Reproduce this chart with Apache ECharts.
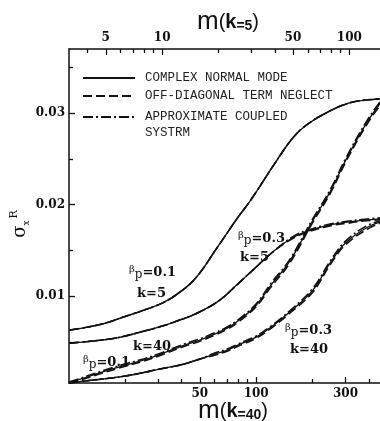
<!DOCTYPE html>
<html><head><meta charset="utf-8">
<script src="https://cdn.jsdelivr.net/npm/echarts@6/dist/echarts.min.js"></script>
<style>html,body{margin:0;padding:0;background:#fff}#c{width:380px;height:421px}</style>
</head><body><div id="c"></div>
<script>
// m along the k=5 scale (top axis)
const mK5 = [3.2, 4, 5, 6, 8, 10, 12, 15, 20, 25, 30, 40, 50, 60, 80, 100, 120, 160];
// m along the k=40 scale (bottom axis)
const mK40 = [10, 12, 15, 20, 25, 30, 40, 50, 60, 70, 80, 100, 120, 150, 200, 250, 300, 400, 500];

// beta_p = 0.1, k = 5 : the three methods coincide
const b01k5 = [0.00628, 0.00661, 0.00705, 0.0076, 0.00847, 0.00923, 0.0102, 0.0119, 0.0155, 0.0184, 0.0206, 0.0245, 0.0273, 0.0288, 0.0303, 0.0311, 0.0314, 0.0316];

// beta_p = 0.3, k = 5
const b03k5Normal = [0.00486, 0.00503, 0.00525, 0.00552, 0.00617, 0.00672, 0.00727, 0.00803, 0.00945, 0.0112, 0.0127, 0.0150, 0.0164, 0.0171, 0.0178, 0.0181, 0.0183, 0.0185];
const b03k5OffDiag = [0.00486, 0.00503, 0.00525, 0.00552, 0.00617, 0.00672, 0.00727, 0.00803, 0.00945, 0.0112, 0.0127, 0.0150, 0.0163, 0.0170, 0.0177, 0.0180, 0.0182, 0.0184];
const b03k5Approx = [0.00486, 0.00503, 0.00525, 0.00552, 0.00617, 0.00672, 0.00727, 0.00803, 0.00945, 0.0112, 0.0127, 0.0150, 0.0165, 0.0172, 0.0179, 0.0182, 0.0184, 0.0186];

// beta_p = 0.1, k = 40
const b01k40Normal = [0.0006, 0.00104, 0.00169, 0.00246, 0.0030, 0.00355, 0.00454, 0.0052, 0.00585, 0.0065, 0.00727, 0.0090, 0.0112, 0.0137, 0.0182, 0.0215, 0.0248, 0.0293, 0.0320];
const b01k40OffDiag = [0.0006, 0.00094, 0.00157, 0.00233, 0.00288, 0.00342, 0.00441, 0.00507, 0.00572, 0.00637, 0.00713, 0.00885, 0.0110, 0.0135, 0.0180, 0.0213, 0.0246, 0.0291, 0.0318];
const b01k40Approx = [0.0006, 0.00114, 0.00181, 0.00259, 0.00313, 0.00368, 0.00467, 0.00533, 0.00598, 0.00663, 0.00741, 0.00915, 0.0114, 0.0139, 0.0184, 0.0217, 0.0250, 0.0295, 0.0322];

// beta_p = 0.3, k = 40
const b03k40Normal = [0.00049, 0.00071, 0.00093, 0.00126, 0.00164, 0.0020, 0.00251, 0.00311, 0.00366, 0.0041, 0.00464, 0.00552, 0.0066, 0.0082, 0.0106, 0.0137, 0.0158, 0.0176, 0.0183];
const b03k40OffDiag = [0.00049, 0.00071, 0.00093, 0.00126, 0.00164, 0.0020, 0.00251, 0.00311, 0.00354, 0.00398, 0.00452, 0.0054, 0.00648, 0.00807, 0.0104, 0.0135, 0.0156, 0.0174, 0.0182];
const b03k40Approx = [0.00049, 0.00071, 0.00093, 0.00126, 0.00164, 0.0020, 0.00251, 0.00311, 0.00378, 0.00422, 0.00476, 0.00564, 0.00672, 0.00833, 0.0108, 0.0139, 0.0160, 0.0178, 0.0184];

// axis ticks and labels
const bottomLabels = [50, 100, 300];
const bottomMinor = [20, 30, 40, 60, 70, 80, 90, 200, 400];
const topLabels = [5, 10, 50, 100];
const topMinor = [4, 6, 7, 8, 9, 20, 30, 40, 60, 70, 80, 90];
const yLabels = [0.01, 0.02, 0.03];
const yMinor = [0.005, 0.015, 0.025, 0.035];

const methodNames = ['COMPLEX NORMAL MODE', 'OFF-DIAGONAL TERM NEGLECT', 'APPROXIMATE COUPLED SYSTRM'];
const methodLines = [
  { type: 'solid', width: 1.3 },
  { type: [9, 4], width: 1.6 },
  { type: [10, 3, 2, 3], width: 1.6 }
];

const curves = [
  { xAxisIndex: 1, m: mK5, values: [b01k5, b01k5, b01k5] },
  { xAxisIndex: 1, m: mK5, values: [b03k5Normal, b03k5OffDiag, b03k5Approx] },
  { xAxisIndex: 0, m: mK40, values: [b01k40Normal, b01k40OffDiag, b01k40Approx] },
  { xAxisIndex: 0, m: mK40, values: [b03k40Normal, b03k40OffDiag, b03k40Approx] }
];

const series = [];
methodNames.forEach((name, i) => {
  curves.forEach(c => {
    series.push({
      type: 'line', name, xAxisIndex: c.xAxisIndex, yAxisIndex: 0,
      data: c.m.map((m, j) => [m, c.values[i][j]]),
      showSymbol: false, symbol: 'none', smooth: 0.4,
      lineStyle: { color: '#111', width: methodLines[i].width, type: methodLines[i].type },
      silent: true, animation: false
    });
  });
});

const ink = '#111';
const tickFont = { fontFamily: 'DejaVu Serif', fontWeight: 'bold', fontSize: 12, color: ink };
const axisLine = { show: true, lineStyle: { color: ink, width: 1.5 } };

function logAxis(pos, min, max, labels, ticks, len, extra) {
  return Object.assign({
    type: 'log', logBase: 10, position: pos, min, max,
    axisLine, splitLine: { show: false }, minorTick: { show: false },
    axisTick: { show: true, inside: true, length: len, customValues: ticks, lineStyle: { color: ink, width: 1.3 } },
    axisLabel: labels ? Object.assign({ show: true, customValues: labels, margin: 5, formatter: v => String(Math.round(v)) }, tickFont) : { show: false }
  }, extra || {});
}

const rich = {
  m: { fontFamily: 'Liberation Sans', fontSize: 26, color: ink, lineHeight: 22 },
  p: { fontFamily: 'Liberation Sans', fontSize: 20, color: ink, lineHeight: 22 },
  k: { fontFamily: 'Liberation Sans', fontSize: 20, fontWeight: 'bold', color: ink, lineHeight: 22 },
  e: { fontFamily: 'Liberation Sans', fontSize: 14, fontWeight: 'bold', color: ink, lineHeight: 22, verticalAlign: 'bottom' }
};

const option = {
  backgroundColor: '#fff',
  animation: false,
  grid: { left: 69, right: -7, top: 49, bottom: 38, outerBoundsMode: 'none' },
  xAxis: [
    logAxis('bottom', 10, 500, bottomLabels, bottomLabels, 6, {
      name: '{m|m}{p|(}{k|k}{e|=40}{p|)}', nameLocation: 'middle', nameGap: 17, nameMoveOverlap: false,
      nameTextStyle: { rich, padding: [0, 0, 0, 10] }
    }),
    logAxis('top', 3.18, 159, topLabels, topLabels, 6, {
      name: '{m|m}{p|(}{k|k}{e|=5}{p|)}', nameLocation: 'middle', nameGap: 16, nameMoveOverlap: false,
      nameTextStyle: { rich }
    }),
    logAxis('bottom', 10, 500, null, bottomMinor, 4, { axisLine: { show: false } }),
    logAxis('top', 3.18, 159, null, topMinor, 4, { axisLine: { show: false } })
  ],
  yAxis: [
    {
      type: 'value', position: 'left', min: 0.0005, max: 0.037,
      axisLine, splitLine: { show: false },
      axisTick: { show: true, inside: true, length: 6, customValues: yLabels, lineStyle: { color: ink, width: 1.3 } },
      axisLabel: Object.assign({ customValues: yLabels, margin: 4, formatter: v => v.toFixed(2) }, tickFont),
      name: '{s|σ}{x|x}{r|R}', nameLocation: 'middle', nameRotate: 90, nameGap: 38, nameMoveOverlap: false,
      nameTextStyle: {
        padding: [0, 16, 0, 0],
        rich: {
          s: { fontFamily: 'DejaVu Serif', fontSize: 18, color: ink, lineHeight: 22, verticalAlign: 'middle' },
          x: { fontFamily: 'DejaVu Serif', fontSize: 9, color: ink, lineHeight: 22, verticalAlign: 'bottom', padding: [0, 2, 0, 0] },
          r: { fontFamily: 'DejaVu Serif', fontSize: 11, color: ink, lineHeight: 22, verticalAlign: 'top' }
        }
      }
    },
    {
      type: 'value', position: 'left', min: 0.0005, max: 0.037,
      axisLine: { show: false }, splitLine: { show: false }, axisLabel: { show: false },
      axisTick: { show: true, inside: true, length: 4, customValues: yMinor, lineStyle: { color: ink, width: 1.3 } }
    }
  ],
  series,
  graphic: buildGraphics()
};

function betaLabel(x, y, val) {
  return {
    type: 'text', x, y, silent: true,
    style: {
      text: '{b|β}{p|p}{v|=' + val + '}',
      rich: {
        b: { fontFamily: 'DejaVu Serif', fontSize: 10, fill: ink, lineHeight: 17, verticalAlign: 'top' },
        p: { fontFamily: 'DejaVu Serif', fontSize: 12, fill: ink, lineHeight: 17, verticalAlign: 'bottom' },
        v: { fontFamily: 'DejaVu Serif', fontSize: 13, fontWeight: 'bold', fill: ink, lineHeight: 17, verticalAlign: 'middle' }
      }
    }
  };
}
function kLabel(x, y, k) {
  return {
    type: 'text', x, y, silent: true,
    style: { text: 'k=' + k, fontFamily: 'DejaVu Serif', fontSize: 13, fontWeight: 'bold', fill: ink }
  };
}

function buildGraphics() {
  const g = [];
  // legend of the three methods
  const rows = [78, 96, 117];
  const texts = ['COMPLEX NORMAL MODE', 'OFF-DIAGONAL TERM NEGLECT', 'APPROXIMATE COUPLED'];
  rows.forEach((y, i) => {
    const t = methodLines[i].type;
    g.push({
      type: 'line', silent: true,
      shape: { x1: 83, y1: y, x2: 135, y2: y },
      style: { stroke: ink, lineWidth: 1.8, lineDash: Array.isArray(t) ? t : null }
    });
    g.push({
      type: 'text', x: 145, y, silent: true,
      style: { text: texts[i], fontFamily: 'Liberation Mono', fontSize: 12.5, fill: '#222', verticalAlign: 'middle' }
    });
  });
  g.push({
    type: 'text', x: 145, y: 133, silent: true,
    style: { text: 'SYSTRM', fontFamily: 'Liberation Mono', fontSize: 12.5, fill: '#222', verticalAlign: 'middle' }
  });
  // curve annotations
  g.push(betaLabel(129, 264, '0.1'), kLabel(137, 287, 5));
  g.push(betaLabel(238, 230, '0.3'), kLabel(240, 251, 5));
  g.push(betaLabel(83, 354, '0.1'), kLabel(133, 340, 40));
  g.push(betaLabel(285, 322, '0.3'), kLabel(290, 343, 40));
  return g;
}

const chart = echarts.init(document.getElementById('c'), null, { renderer: 'canvas', width: 380, height: 421 });
chart.setOption(option);
</script>
</body></html>
